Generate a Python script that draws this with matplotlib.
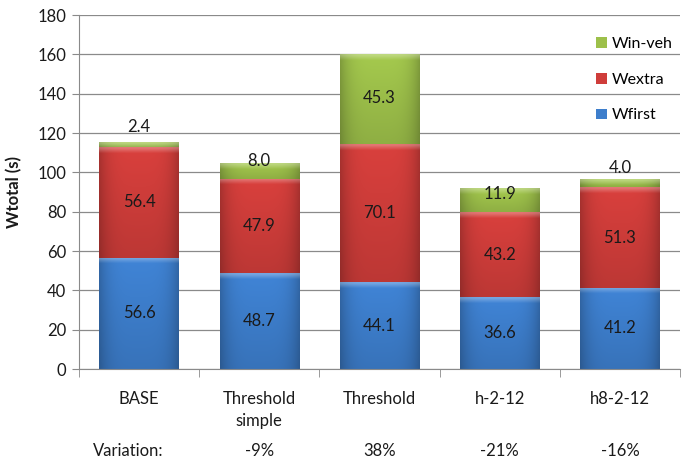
import numpy as np
import matplotlib
matplotlib.use("Agg")
import matplotlib.pyplot as plt
from matplotlib.patches import Patch

plt.rcParams['font.family'] = ['Lato', 'DejaVu Sans']

# Tempos por configuração (segundos)
categorias = ['BASE', 'Threshold\nsimple', 'Threshold', 'h-2-12', 'h8-2-12']
wfirst = [56.6, 48.7, 44.1, 36.6, 41.2]
wextra = [56.4, 47.9, 70.1, 43.2, 51.3]
winveh = [2.4, 8.0, 45.3, 11.9, 4.0]
variacao = ['Variation:', '-9%', '38%', '-21%', '-16%']

cores = {'Wfirst': '#3d7ecc', 'Wextra': '#cf3d3a', 'Win-veh': '#9dc04a'}
# deslocamento vertical (px) dos rótulos do Win-veh
desloc_winveh = [17, 10, 2, 6, 15]

fig = plt.figure(figsize=(6.82, 4.63), dpi=100)
ax = fig.add_axes([79 / 682, 1 - 369 / 463, 601 / 682, 354 / 463])
ax.set_xlim(-0.5, 4.5)
ax.set_ylim(0, 180)


def sombrear(ax, barra, cor):
    # gradiente estilo Excel: bordas mais escuras e faixa clara no topo
    x0, y0 = barra.get_x(), barra.get_y()
    w, h = barra.get_width(), barra.get_height()
    base = np.array(matplotlib.colors.to_rgb(cor))
    ph = ax.transData.transform((0, h))[1] - ax.transData.transform((0, 0))[1]
    nx, ny = 80, 240
    u = np.linspace(0, 1, nx)
    v = np.linspace(0, 1, ny)
    hprof = 1 - 0.22 * np.abs(2 * u - 1) ** 4
    vprof = 1.05 - 0.14 * v
    img = base[None, None, :] * hprof[None, :, None] * vprof[:, None, None]
    bevel = np.clip(1.2 - v * ph / 5, 0, 1)[:, None, None] * 0.28
    img = img * (1 - bevel) + bevel
    img = np.clip(img, 0, 1)
    ax.imshow(img, extent=(x0, x0 + w, y0, y0 + h), aspect='auto',
              interpolation='bilinear', zorder=2)


x = np.arange(len(categorias))
largura = 0.66
fundo = np.zeros(len(x))
series = [('Wfirst', wfirst), ('Wextra', wextra), ('Win-veh', winveh)]
for nome, valores in series:
    barras = ax.bar(x, valores, largura, bottom=fundo, color='none',
                    edgecolor='none', zorder=2)
    for b in barras:
        sombrear(ax, b, cores[nome])
    for i, (b0, val) in enumerate(zip(fundo, valores)):
        dy = desloc_winveh[i] if nome == 'Win-veh' else 0
        ax.annotate(f'{val:.1f}', (i, b0 + val / 2), xytext=(0, dy * 0.72),
                    textcoords='offset points', ha='center', va='center',
                    fontsize=12, color='#1a1a1a', zorder=4)
    fundo = fundo + np.array(valores)

ax.set_xlim(-0.5, 4.5)
ax.set_ylim(0, 180)

ax.set_axisbelow(True)
ax.yaxis.grid(True, color='#8a8a8a', linewidth=0.9)
ax.set_yticks(np.arange(0, 181, 20))
for lado in ['top', 'right']:
    ax.spines[lado].set_visible(False)
for lado in ['left', 'bottom']:
    ax.spines[lado].set_color('#8a8a8a')
ax.tick_params(axis='y', colors='#8a8a8a', labelcolor='#1a1a1a',
               labelsize=12, length=5, pad=4)
ax.set_xticks(x)
ax.set_xticklabels(categorias, fontsize=12, linespacing=1.45, color='#1a1a1a')
ax.tick_params(axis='x', length=0, pad=16)
ax.set_xticks(np.arange(-0.5, 5, 1), minor=True)
ax.tick_params(axis='x', which='minor', length=6, color='#8a8a8a')

ax.set_ylabel('Wtotal (s)', fontsize=12, fontweight='bold', color='#1a1a1a')
ax.yaxis.set_label_coords(-0.095, 0.5)

# linha de variação abaixo das categorias
for i, txt in enumerate(variacao):
    xi = i - 0.09 if i == 0 else i
    ax.text(xi, -0.232, txt, transform=ax.get_xaxis_transform(),
            ha='center', va='center', fontsize=12, color='#1a1a1a')

handles = [Patch(facecolor=cores[n]) for n in ['Win-veh', 'Wextra', 'Wfirst']]
ax.legend(handles, ['Win-veh', 'Wextra', 'Wfirst'], loc='upper left',
          bbox_to_anchor=(0.85, 0.955), frameon=False, fontsize=11.5,
          handlelength=0.65, handleheight=0.65, handletextpad=0.3,
          labelspacing=1.35, borderaxespad=0)

fig.savefig('out.png', dpi=100)
